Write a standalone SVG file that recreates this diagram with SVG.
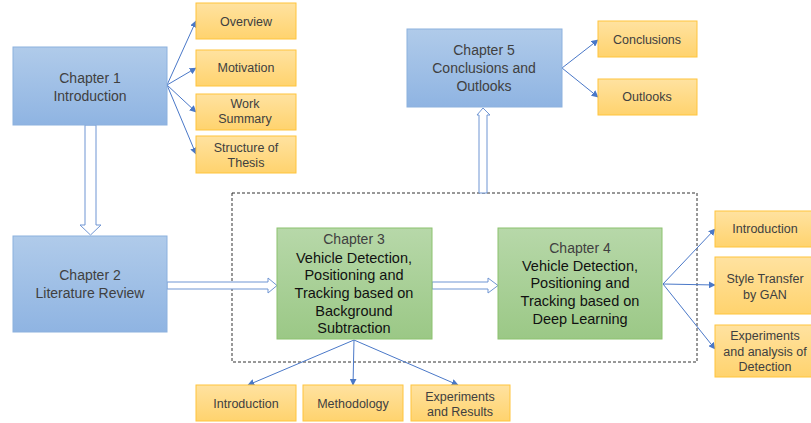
<svg xmlns="http://www.w3.org/2000/svg" width="811" height="423" viewBox="0 0 811 423">
  <style>
    text { font-family: "Liberation Sans", Arial, sans-serif; text-anchor: middle; dominant-baseline: central; }
    .blue { fill: url(#gBlue); stroke: #8cb1de; stroke-width: 1; }
    .green { fill: url(#gGreen); stroke: #8cc26f; stroke-width: 1; }
    .sub { fill: url(#gOrange); stroke: #ffc43c; stroke-width: 1; }
    .t14 { font-size: 14px; fill: #404040; }
    .t14b { font-size: 14.5px; fill: #111; }
    .t12 { font-size: 12.5px; fill: #404040; }
    .link { stroke: #4a78c8; stroke-width: 1; fill: none; marker-end: url(#arr); }
    .hollow { fill: #fff; stroke: #6f95d3; stroke-width: 1; }
  </style>
  <defs>
    <linearGradient id="gBlue" x1="0" y1="0" x2="0" y2="1">
      <stop offset="0" stop-color="#b0cbea"/>
      <stop offset="1" stop-color="#8fb4e2"/>
    </linearGradient>
    <linearGradient id="gGreen" x1="0" y1="0" x2="0" y2="1">
      <stop offset="0" stop-color="#b7d8a9"/>
      <stop offset="1" stop-color="#9bc886"/>
    </linearGradient>
    <linearGradient id="gOrange" x1="0" y1="0" x2="0" y2="1">
      <stop offset="0" stop-color="#ffe2a0"/>
      <stop offset="1" stop-color="#ffd36e"/>
    </linearGradient>
    <marker id="arr" viewBox="0 0 10 10" refX="9" refY="5" markerWidth="7" markerHeight="7" orient="auto" markerUnits="userSpaceOnUse">
      <path d="M0,0 L10,5 L0,10 z" fill="#4a78c8"/>
    </marker>
  </defs>

  <!-- dashed grouping frame around chapters 3 and 4 -->
  <rect x="232" y="193" width="465" height="169" fill="none" stroke="#333" stroke-width="1" stroke-dasharray="3,2"/>

  <g id="connectors">
    <!-- chapter 1 to its sections -->
    <line class="link" x1="167" y1="85" x2="196" y2="21"/>
    <line class="link" x1="167" y1="85" x2="196" y2="68"/>
    <line class="link" x1="167" y1="85" x2="196" y2="112"/>
    <line class="link" x1="167" y1="85" x2="196" y2="154"/>
    <!-- chapter 5 to its sections -->
    <line class="link" x1="562" y1="68" x2="598" y2="40"/>
    <line class="link" x1="562" y1="68" x2="598" y2="97"/>
    <!-- chapter 4 to its sections -->
    <line class="link" x1="663" y1="284" x2="715" y2="229"/>
    <line class="link" x1="663" y1="284" x2="715" y2="285"/>
    <line class="link" x1="663" y1="284" x2="715" y2="349"/>
    <!-- chapter 3 to its sections -->
    <line class="link" x1="354" y1="340" x2="248" y2="385"/>
    <line class="link" x1="354" y1="340" x2="353" y2="385"/>
    <line class="link" x1="354" y1="340" x2="458" y2="385"/>
    <!-- hollow block arrows between chapters -->
    <path class="hollow" d="M85,125 L96,125 L96,225 L101,225 L90.5,235 L80,225 L85,225 Z"/>
    <path class="hollow" d="M167,282 L268,282 L268,278 L277,285.5 L268,293 L268,289 L167,289 Z"/>
    <path class="hollow" d="M432,282 L488,282 L488,278 L498,285.5 L488,293 L488,289 L432,289 Z"/>
    <path class="hollow" d="M479,193 L479,115 L477,115 L483,108 L490,115 L487,115 L487,193 Z"/>
  </g>

  <g id="ch1">
    <rect class="blue" x="13" y="47" width="154" height="78"/>
    <text class="t14" x="90" y="78">Chapter 1</text>
    <text class="t14" x="90" y="96">Introduction</text>
  </g>
  <g id="ch1-overview">
    <rect class="sub" x="196" y="3" width="100" height="36"/>
    <text class="t12" x="246" y="22">Overview</text>
  </g>
  <g id="ch1-motivation">
    <rect class="sub" x="196" y="50" width="100" height="36"/>
    <text class="t12" x="246" y="68">Motivation</text>
  </g>
  <g id="ch1-summary">
    <rect class="sub" x="196" y="94" width="100" height="36"/>
    <text class="t12" x="245" y="104">Work</text>
    <text class="t12" x="245" y="119">Summary</text>
  </g>
  <g id="ch1-structure">
    <rect class="sub" x="196" y="136" width="100" height="37"/>
    <text class="t12" x="246" y="148">Structure of</text>
    <text class="t12" x="246" y="163">Thesis</text>
  </g>

  <g id="ch2">
    <rect class="blue" x="13" y="236" width="154" height="96"/>
    <text class="t14" x="90" y="275">Chapter 2</text>
    <text class="t14" x="90" y="293">Literature Review</text>
  </g>

  <g id="ch3">
    <rect class="green" x="277" y="228" width="155" height="111"/>
    <text class="t14" x="354" y="239" fill="#595959">Chapter 3</text>
    <text class="t14b" x="354" y="258">Vehicle Detection,</text>
    <text class="t14b" x="354" y="275">Positioning and</text>
    <text class="t14b" x="354" y="293">Tracking based on</text>
    <text class="t14b" x="354" y="311">Background</text>
    <text class="t14b" x="354" y="328">Subtraction</text>
  </g>
  <g id="ch3-intro">
    <rect class="sub" x="196" y="385" width="100" height="36"/>
    <text class="t12" x="246" y="404">Introduction</text>
  </g>
  <g id="ch3-method">
    <rect class="sub" x="303" y="385" width="100" height="36"/>
    <text class="t12" x="353" y="404">Methodology</text>
  </g>
  <g id="ch3-results">
    <rect class="sub" x="411" y="385" width="99" height="36"/>
    <text class="t12" x="460" y="397">Experiments</text>
    <text class="t12" x="460" y="412">and Results</text>
  </g>

  <g id="ch4">
    <rect class="green" x="498" y="228" width="164" height="111"/>
    <text class="t14" x="580" y="248" fill="#595959">Chapter 4</text>
    <text class="t14b" x="580" y="266">Vehicle Detection,</text>
    <text class="t14b" x="580" y="283">Positioning and</text>
    <text class="t14b" x="580" y="301">Tracking based on</text>
    <text class="t14b" x="580" y="319">Deep Learning</text>
  </g>
  <g id="ch4-intro">
    <rect class="sub" x="715" y="211" width="100" height="36"/>
    <text class="t12" x="765" y="229">Introduction</text>
  </g>
  <g id="ch4-gan">
    <rect class="sub" x="715" y="257" width="100" height="57"/>
    <text class="t12" x="765" y="279">Style Transfer</text>
    <text class="t12" x="765" y="295">by GAN</text>
  </g>
  <g id="ch4-experiments">
    <rect class="sub" x="715" y="325" width="100" height="52"/>
    <text class="t12" x="765" y="336">Experiments</text>
    <text class="t12" x="765" y="352">and analysis of</text>
    <text class="t12" x="765" y="367">Detection</text>
  </g>

  <g id="ch5">
    <rect class="blue" x="407" y="29" width="155" height="78"/>
    <text class="t14" x="484" y="50">Chapter 5</text>
    <text class="t14" x="484" y="68">Conclusions and</text>
    <text class="t14" x="484" y="86">Outlooks</text>
  </g>
  <g id="ch5-conclusions">
    <rect class="sub" x="598" y="21" width="99" height="36"/>
    <text class="t12" x="647" y="40">Conclusions</text>
  </g>
  <g id="ch5-outlooks">
    <rect class="sub" x="598" y="79" width="99" height="36"/>
    <text class="t12" x="647" y="97">Outlooks</text>
  </g>
</svg>
